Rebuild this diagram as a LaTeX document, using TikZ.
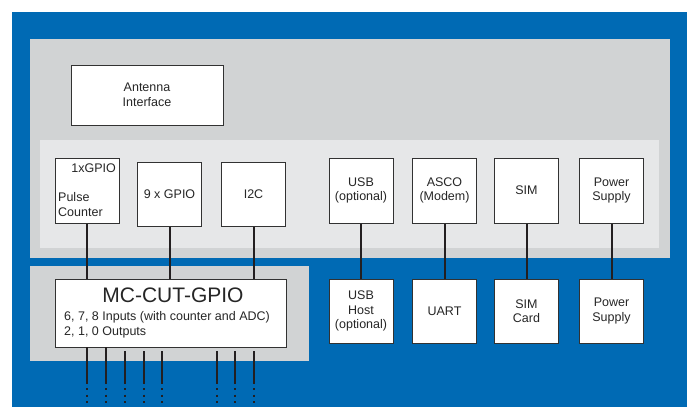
\documentclass[tikz,border=0pt]{standalone}
\usepackage{fontspec}
\setmainfont{Liberation Sans}
\usetikzlibrary{positioning,calc}
\definecolor{bgblue}{RGB}{0,106,180}
\definecolor{panel}{RGB}{209,211,212}
\definecolor{inner}{RGB}{230,231,232}
\definecolor{edge}{RGB}{50,50,50}
\definecolor{wirec}{RGB}{35,31,32}

\tikzset{
  blk/.style={draw=edge, line width=1pt, fill=white, minimum width=64pt,
    minimum height=65pt, inner sep=0pt, align=center,
    font=\fontsize{12.5}{14.5}\selectfont\color{black!85}},
  txt/.style={inner sep=0pt, font=\fontsize{12.5}{14.5}\selectfont\color{black!85}},
  wire/.style={draw=wirec, line width=2pt},
  pin/.style={draw=wirec, line width=2pt, dash pattern=on 2pt off 4.5pt},
}

\begin{document}
\begin{tikzpicture}[x=1pt,y=-1pt]
  \useasboundingbox (0,0) rectangle (692,407);
  % panels
  \fill[bgblue] (12,12) rectangle (687,407);
  \fill[panel] (30,39) rectangle (670,258);
  \fill[inner] (40,140) rectangle (659,248);
  \fill[panel] (30,266) rectangle (309,361);

  % module blocks
  \node[blk, minimum width=152pt, minimum height=60pt] (ant) at (147,95) {Antenna\\Interface};
  \node[blk] (gpio1) at (87,190.5) {};
  \node[txt, anchor=east] (gpiolbl) at (116,168) {1xGPIO};
  \node[txt, anchor=west, align=left] (pulse) at (58,204.5) {Pulse\\Counter};
  \node[blk, minimum height=64pt] (gpio9) at (169.5,194) {9 x GPIO};
  \node[blk, minimum height=64pt] (itwoc) at (253.5,194) {I2C};
  \node[blk] (usb) at (361,190.5) {USB\\(optional)};
  \node[blk] (asco) at (444.5,190.5) {ASCO\\(Modem)};
  \node[blk] (sim) at (526.5,190.5) {SIM};
  \node[blk] (pwr) at (611.5,190.5) {Power\\Supply};

  % external blocks
  \node[blk, minimum height=64pt] (usbh) at (361,311) {USB\\Host\\(optional)};
  \node[blk, minimum height=64pt] (uart) at (444.5,311) {UART};
  \node[blk, minimum height=64pt] (simc) at (526.5,311) {SIM\\Card};
  \node[blk, minimum height=64pt] (pwrx) at (611.5,311) {Power\\Supply};

  % MC-CUT-GPIO
  \node[blk, minimum width=231pt, minimum height=68pt] (mc) at (170.5,313) {};
  \node[inner sep=0pt, font=\fontsize{21}{24}\selectfont\color{black!85}] (mctitle) at (173,295) {MC-CUT-GPIO};
  \node[txt, anchor=west, align=left] (mcinfo) at (64,325) {6, 7, 8 Inputs (with counter and ADC)\\2, 1, 0 Outputs};

  % connectors
  \foreach \n in {gpio1,gpio9,itwoc}
    \draw[wire] (\n.south) -- (\n.south |- mc.north);
  \draw[wire] (usb) -- (usbh);
  \draw[wire] (asco) -- (uart);
  \draw[wire] (sim) -- (simc);
  \draw[wire] (pwr) -- (pwrx);

  % pins
  \foreach \x/\t [count=\i] in {87/347,106/347,125/351,144/351,162/351,217/351,235/351,254/351}{
    \coordinate (p\i) at (\x,384);
    \draw[wire] (p\i |- 0,\t) -- (p\i);
    \draw[pin] ([yshift=-4pt]p\i) -- (\x,407);
  }
\end{tikzpicture}
\end{document}
